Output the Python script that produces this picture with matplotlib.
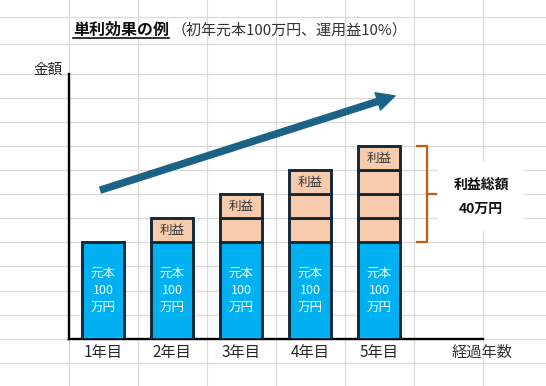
import matplotlib
matplotlib.use("Agg")
import matplotlib.pyplot as plt
from matplotlib.patches import FancyArrowPatch, ArrowStyle

plt.rcParams['font.family'] = ['Noto Sans CJK JP', 'DejaVu Sans']

# chart data
years = ['1年目', '2年目', '3年目', '4年目', '5年目']
profit_blocks = [0, 1, 2, 3, 4]      # number of 10万円 profit blocks per year
principal_label = '元本\n100\n万円'
profit_label = '利益'
title_main = '単利効果の例'
title_sub = '（初年元本100万円、運用益10%）'
y_label = '金額'
x_label = '経過年数'
total_label = '利益総額\n40万円'

# drawing constants
W, H = 546, 386
PRINCIPAL_H = 4          # principal drawn as 4 grid rows, each profit block as 1 row
BAR_W = 0.62
BLUE = '#00b0f0'
PEACH = '#f8cbad'
EDGE = '#13293a'
ARROW = '#1a6386'
BRACE = '#c55a11'
GRID = '#dadada'

fig = plt.figure(figsize=(W / 100, H / 100), dpi=100)

# spreadsheet background (pixel coordinates)
sheet = fig.add_axes([0, 0, 1, 1])
sheet.set_xlim(0, W)
sheet.set_ylim(H, 0)
sheet.axis('off')
col_x = [68.6 + 69 * i for i in range(8)]
row_y = [16.5, 43.5] + [74 + 24.06 * i for i in range(14)]
for x in col_x:
    sheet.axvline(x, color=GRID, lw=0.9, zorder=0)
for y in row_y:
    sheet.axhline(y, color=GRID, lw=0.9, zorder=0)

# title: bold underlined part followed by the note in brackets
t1 = sheet.text(73, 30, title_main, fontsize=11.5, fontweight='bold',
                color='#111111', va='center', ha='left')
t2 = sheet.annotate(title_sub, xy=(1, 0.5), xycoords=t1, xytext=(2, 0),
                    textcoords='offset points', fontsize=10.8, color='#333333',
                    va='center', ha='left')
fig.canvas.draw()
bb = t1.get_window_extent().transformed(sheet.transData.inverted())
sheet.plot([bb.x0, bb.x1], [37.5, 37.5], color='#111111', lw=1.2)

# chart area: x in columns, y in grid rows
ax = fig.add_axes([68.6 / W, (H - 338.7) / H, 414 / W, (338.7 - 74) / H])
ax.set_facecolor('none')
ax.set_xlim(0, 6)
ax.set_ylim(0, 11)
for side in ['top', 'right']:
    ax.spines[side].set_visible(False)
for side in ['left', 'bottom']:
    ax.spines[side].set_linewidth(1.7)
    ax.spines[side].set_color('black')
ax.set_yticks([])

xs = [i + 0.5 for i in range(len(years))]
ax.set_xticks(xs)
ax.set_xticklabels(years, fontsize=11, color='#262626')
ax.tick_params(axis='x', length=0, pad=4)

for x, n in zip(xs, profit_blocks):
    ax.bar(x, PRINCIPAL_H, width=BAR_W, color=BLUE, edgecolor=EDGE,
           linewidth=2.1, zorder=3)
    ax.text(x, PRINCIPAL_H / 2, principal_label, color='white', fontsize=9,
            ha='center', va='center', linespacing=1.45, zorder=4)
    for k in range(n):
        ax.bar(x, 1, bottom=PRINCIPAL_H + k, width=BAR_W, color=PEACH,
               edgecolor=EDGE, linewidth=2.1, zorder=3)
    if n:
        ax.text(x, PRINCIPAL_H + n - 0.5, profit_label, color='#333333',
                fontsize=9, ha='center', va='center', zorder=4)

# axis captions
ax.text(-0.08, 11.17, y_label, fontsize=10.5, color='#222222',
        ha='right', va='center', clip_on=False)
ax.text(6.0, -0.58, x_label, fontsize=11, color='#333333',
        ha='center', va='center', clip_on=False)

# growth arrow
arrow = FancyArrowPatch((0.465, 6.18), (4.73, 10.09),
                        arrowstyle=ArrowStyle.Simple(head_length=13,
                                                     head_width=13,
                                                     tail_width=4.4),
                        mutation_scale=1, color=ARROW, shrinkA=0, shrinkB=0,
                        zorder=5)
ax.add_patch(arrow)

# brace around the total profit
top = PRINCIPAL_H + max(profit_blocks)
mid = (PRINCIPAL_H + top) / 2
ax.plot([5.05, 5.19, 5.19, 5.05], [top, top, PRINCIPAL_H, PRINCIPAL_H],
        color=BRACE, lw=1.6, solid_joinstyle='round', clip_on=False, zorder=5)
ax.plot([5.19, 5.33], [mid, mid], color=BRACE, lw=1.6, clip_on=False, zorder=5)

ax.text(5.98, 5.89, total_label, fontsize=10, fontweight='bold',
        color='#111111', ha='center', va='center', linespacing=1.95,
        bbox=dict(boxstyle='square,pad=1.1', facecolor='white',
                  edgecolor='none'),
        clip_on=False, zorder=6)

fig.savefig('out.png', dpi=100)
